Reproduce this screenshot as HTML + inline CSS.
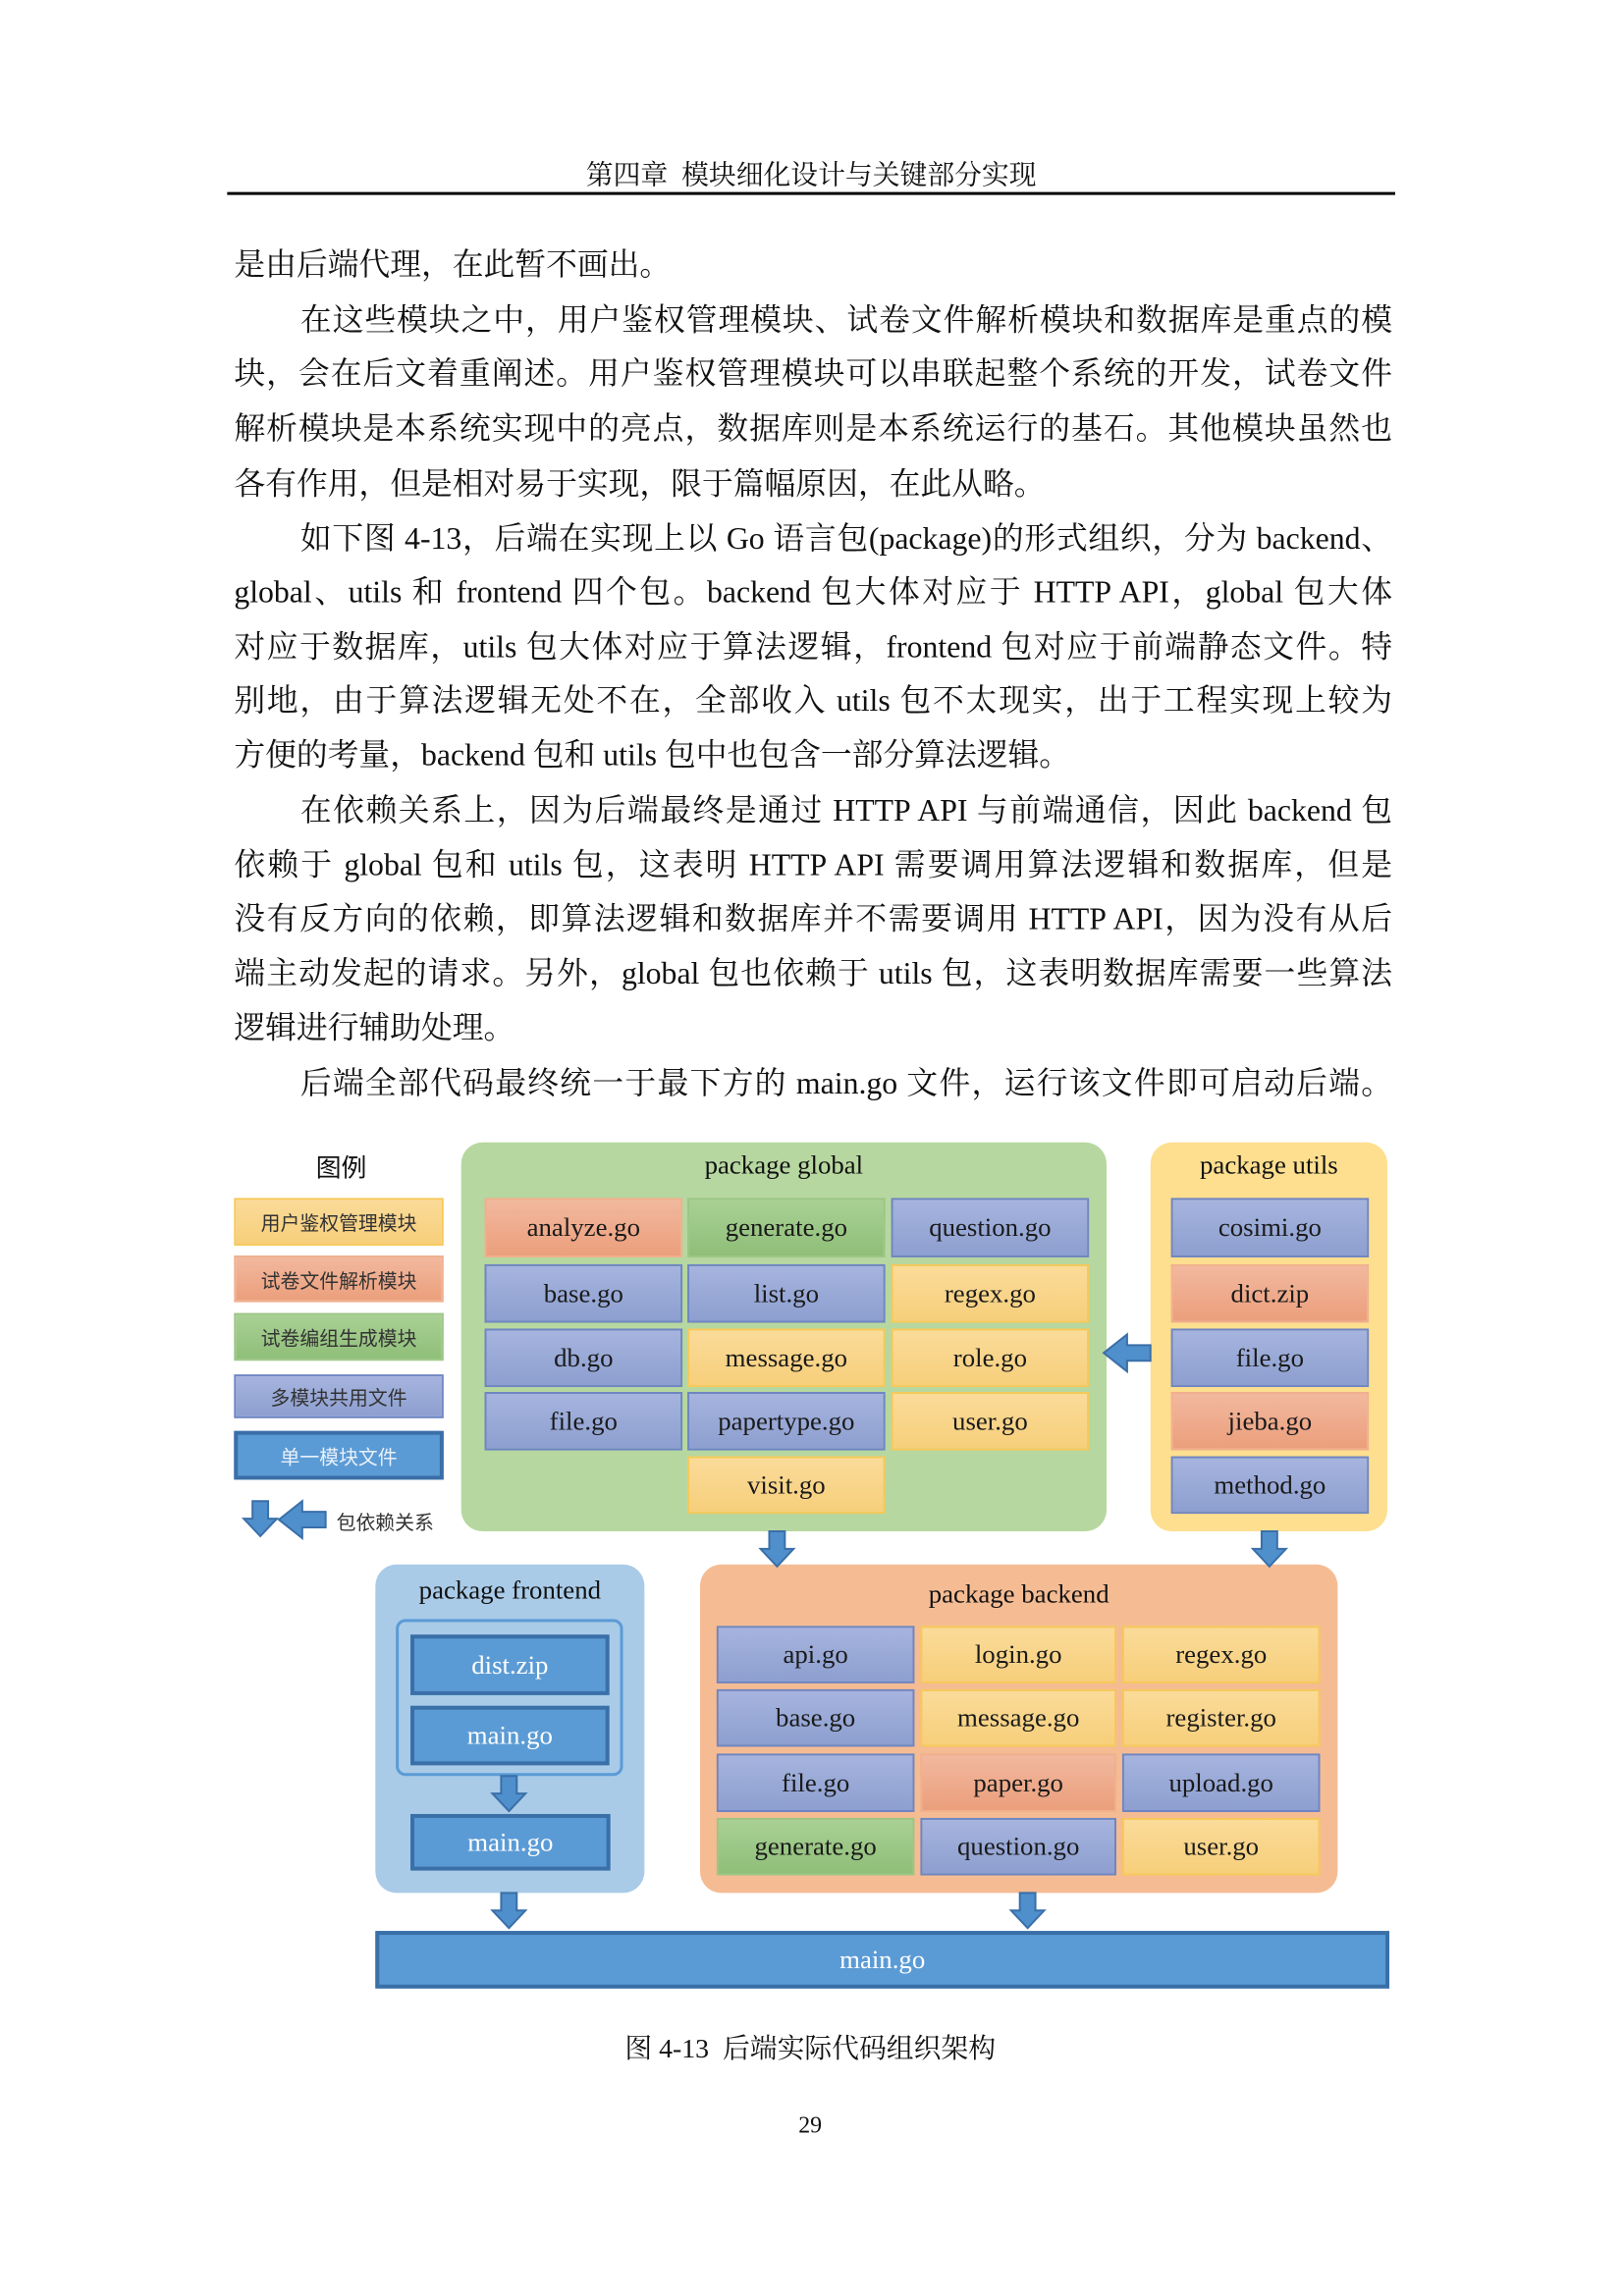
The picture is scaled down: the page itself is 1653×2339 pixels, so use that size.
<!DOCTYPE html>
<html><head><meta charset="utf-8">
<style>
body{margin:0;background:#fff;}
#w{position:relative;width:1653px;height:2339px;overflow:hidden;}
#p{position:absolute;left:0;top:0;width:1653px;height:2339px;transform:scale(0.993);transform-origin:0 0;font-family:"Liberation Serif","Noto Serif CJK SC","Noto Sans CJK SC",serif;color:#111;}
.hd{position:absolute;left:233px;width:1198px;top:158px;text-align:center;font-size:28px;}
.hl{position:absolute;left:233px;width:1198px;top:197px;height:3px;background:#000;}
.l{position:absolute;left:240px;width:1188px;height:56px;line-height:56px;font-size:32px;white-space:nowrap;}
.j{text-align:justify;text-align-last:justify;white-space:normal;}
.i{left:308px;width:1120px;}
.b{position:absolute;box-sizing:border-box;display:flex;align-items:center;justify-content:center;font-size:27px;color:#1a1a1a;}
.o{background:linear-gradient(#f2b89e,#eb9f7c);border:2px solid #f0b08e;}
.g{background:linear-gradient(#a9d095,#8fbf78);border:2px solid #9cc685;}
.u{background:linear-gradient(#a6b4de,#8d9fd0);border:2px solid #6f86c2;}
.y{background:linear-gradient(#fadb99,#f7cf7b);border:2px solid #f6c95a;}
.d{background:#5b9bd5;border:4px solid #3a6fa8;color:#fff;}
.pk{position:absolute;border-radius:22px;}
.t{position:absolute;text-align:center;font-size:27px;}
.lg{position:absolute;left:240px;width:215px;box-sizing:border-box;display:flex;align-items:center;justify-content:center;font-size:20px;font-family:"Liberation Sans","Noto Sans CJK SC",sans-serif;color:#333;}
</style></head><body><div id="w"><div id="p">
<div class="hd">第四章&nbsp;&nbsp;模块细化设计与关键部分实现</div>
<div class="hl"></div>

<div class="l" style="top:243px">是由后端代理，在此暂不画出。</div>
<div class="l i j" style="top:300px">在这些模块之中，用户鉴权管理模块、试卷文件解析模块和数据库是重点的模</div>
<div class="l j" style="top:355px">块，会在后文着重阐述。用户鉴权管理模块可以串联起整个系统的开发，试卷文件</div>
<div class="l j" style="top:411px">解析模块是本系统实现中的亮点，数据库则是本系统运行的基石。其他模块虽然也</div>
<div class="l" style="top:468px">各有作用，但是相对易于实现，限于篇幅原因，在此从略。</div>
<div class="l i j" style="top:524px">如下图 4-13，后端在实现上以 Go 语言包(package)的形式组织，分为 backend、</div>
<div class="l j" style="top:579px">global、utils 和 frontend 四个包。backend 包大体对应于 HTTP API，global 包大体</div>
<div class="l j" style="top:635px">对应于数据库，utils 包大体对应于算法逻辑，frontend 包对应于前端静态文件。特</div>
<div class="l j" style="top:690px">别地，由于算法逻辑无处不在，全部收入 utils 包不太现实，出于工程实现上较为</div>
<div class="l" style="top:746px">方便的考量，backend 包和 utils 包中也包含一部分算法逻辑。</div>
<div class="l i j" style="top:803px">在依赖关系上，因为后端最终是通过 HTTP API 与前端通信，因此 backend 包</div>
<div class="l j" style="top:859px">依赖于 global 包和 utils 包，这表明 HTTP API 需要调用算法逻辑和数据库，但是</div>
<div class="l j" style="top:914px">没有反方向的依赖，即算法逻辑和数据库并不需要调用 HTTP API，因为没有从后</div>
<div class="l j" style="top:970px">端主动发起的请求。另外，global 包也依赖于 utils 包，这表明数据库需要一些算法</div>
<div class="l" style="top:1026px">逻辑进行辅助处理。</div>
<div class="l i j" style="top:1083px">后端全部代码最终统一于最下方的 main.go 文件，运行该文件即可启动后端。</div>

<!-- legend -->
<div class="t" style="left:300px;width:100px;top:1178px;font-family:'Liberation Sans','Noto Sans CJK SC',sans-serif;font-size:26px">图例</div>
<div class="lg y" style="top:1229px;height:49px">用户鉴权管理模块</div>
<div class="lg o" style="top:1288px;height:48px">试卷文件解析模块</div>
<div class="lg g" style="top:1347px;height:49px">试卷编组生成模块</div>
<div class="lg u" style="top:1410px;height:45px">多模块共用文件</div>
<div class="lg d" style="top:1468px;height:50px;color:#e8f0fa">单一模块文件</div>
<div class="t" style="left:340px;width:110px;top:1546px;font-size:20px;font-family:'Liberation Sans','Noto Sans CJK SC',sans-serif;color:#333">包依赖关系</div>

<!-- global -->
<div class="pk" style="left:473px;top:1172px;width:662px;height:399px;background:#b7d7a0"></div>
<div class="t" style="left:473px;width:662px;top:1180px">package global</div>
<div class="b o" style="left:497px;top:1229px;width:203px;height:61px">analyze.go</div>
<div class="b g" style="left:705px;top:1229px;width:203px;height:61px">generate.go</div>
<div class="b u" style="left:914px;top:1229px;width:203px;height:61px">question.go</div>
<div class="b u" style="left:497px;top:1297px;width:203px;height:60px">base.go</div>
<div class="b u" style="left:705px;top:1297px;width:203px;height:60px">list.go</div>
<div class="b y" style="left:914px;top:1297px;width:203px;height:60px">regex.go</div>
<div class="b u" style="left:497px;top:1363px;width:203px;height:60px">db.go</div>
<div class="b y" style="left:705px;top:1363px;width:203px;height:60px">message.go</div>
<div class="b y" style="left:914px;top:1363px;width:203px;height:60px">role.go</div>
<div class="b u" style="left:497px;top:1428px;width:203px;height:60px">file.go</div>
<div class="b u" style="left:705px;top:1428px;width:203px;height:60px">papertype.go</div>
<div class="b y" style="left:914px;top:1428px;width:203px;height:60px">user.go</div>
<div class="b y" style="left:705px;top:1494px;width:203px;height:59px">visit.go</div>

<!-- utils -->
<div class="pk" style="left:1180px;top:1172px;width:243px;height:399px;background:#fddf8f"></div>
<div class="t" style="left:1180px;width:243px;top:1180px">package utils</div>
<div class="b u" style="left:1201px;top:1229px;width:203px;height:61px">cosimi.go</div>
<div class="b o" style="left:1201px;top:1297px;width:203px;height:60px">dict.zip</div>
<div class="b u" style="left:1201px;top:1363px;width:203px;height:60px">file.go</div>
<div class="b o" style="left:1201px;top:1428px;width:203px;height:60px">jieba.go</div>
<div class="b u" style="left:1201px;top:1494px;width:203px;height:59px">method.go</div>

<!-- frontend -->
<div class="pk" style="left:385px;top:1605px;width:276px;height:337px;background:#a9cbe8"></div>
<div class="t" style="left:385px;width:276px;top:1616px">package frontend</div>
<div style="position:absolute;left:406px;top:1661px;width:233px;height:161px;box-sizing:border-box;border:3px solid #5b9bd5;border-radius:10px"></div>
<div class="b d" style="left:421px;top:1677px;width:204px;height:62px">dist.zip</div>
<div class="b d" style="left:421px;top:1750px;width:204px;height:61px">main.go</div>
<div class="b d" style="left:421px;top:1861px;width:205px;height:58px">main.go</div>

<!-- backend -->
<div class="pk" style="left:718px;top:1605px;width:654px;height:337px;background:#f5bc93"></div>
<div class="t" style="left:718px;width:654px;top:1620px">package backend</div>
<div class="b u" style="left:735px;top:1668px;width:203px;height:59px">api.go</div>
<div class="b y" style="left:944px;top:1668px;width:201px;height:59px">login.go</div>
<div class="b y" style="left:1151px;top:1668px;width:203px;height:59px">regex.go</div>
<div class="b u" style="left:735px;top:1733px;width:203px;height:59px">base.go</div>
<div class="b y" style="left:944px;top:1733px;width:201px;height:59px">message.go</div>
<div class="b y" style="left:1151px;top:1733px;width:203px;height:59px">register.go</div>
<div class="b u" style="left:735px;top:1799px;width:203px;height:60px">file.go</div>
<div class="b o" style="left:944px;top:1799px;width:201px;height:60px">paper.go</div>
<div class="b u" style="left:1151px;top:1799px;width:203px;height:60px">upload.go</div>
<div class="b g" style="left:735px;top:1865px;width:203px;height:59px">generate.go</div>
<div class="b u" style="left:944px;top:1865px;width:201px;height:59px">question.go</div>
<div class="b y" style="left:1151px;top:1865px;width:203px;height:59px">user.go</div>

<div class="b d" style="left:385px;top:1981px;width:1040px;height:59px">main.go</div>

<svg style="position:absolute;left:0;top:0" width="1653" height="2339">
<defs>
<g id="da"><path d="M-8,0 H8 V18 H17 L0,36 L-17,18 H-8 Z" fill="#4f8fcc" stroke="#3a6fa8" stroke-width="2"/></g>
</defs>
<use href="#da" x="797" y="1571"/>
<use href="#da" x="1302" y="1571"/>
<use href="#da" x="522" y="1822"/>
<use href="#da" x="522" y="1942"/>
<use href="#da" x="1054" y="1942"/>
<use href="#da" x="267" y="1540"/>
<path d="M1180,1380 H1156 V1369 L1132,1388 L1156,1407 V1396 H1180 Z" fill="#4f8fcc" stroke="#3a6fa8" stroke-width="2"/>
<path d="M334,1551 H310 V1540 L286,1559 L310,1578 V1567 H334 Z" fill="#4f8fcc" stroke="#3a6fa8" stroke-width="2"/>
</svg>

<div class="t" style="left:531px;width:600px;top:2080px;font-size:28px">图 4-13&nbsp;&nbsp;后端实际代码组织架构</div>
<div class="t" style="left:781px;width:100px;top:2168px;font-size:24px">29</div>
</div></div></body></html>
